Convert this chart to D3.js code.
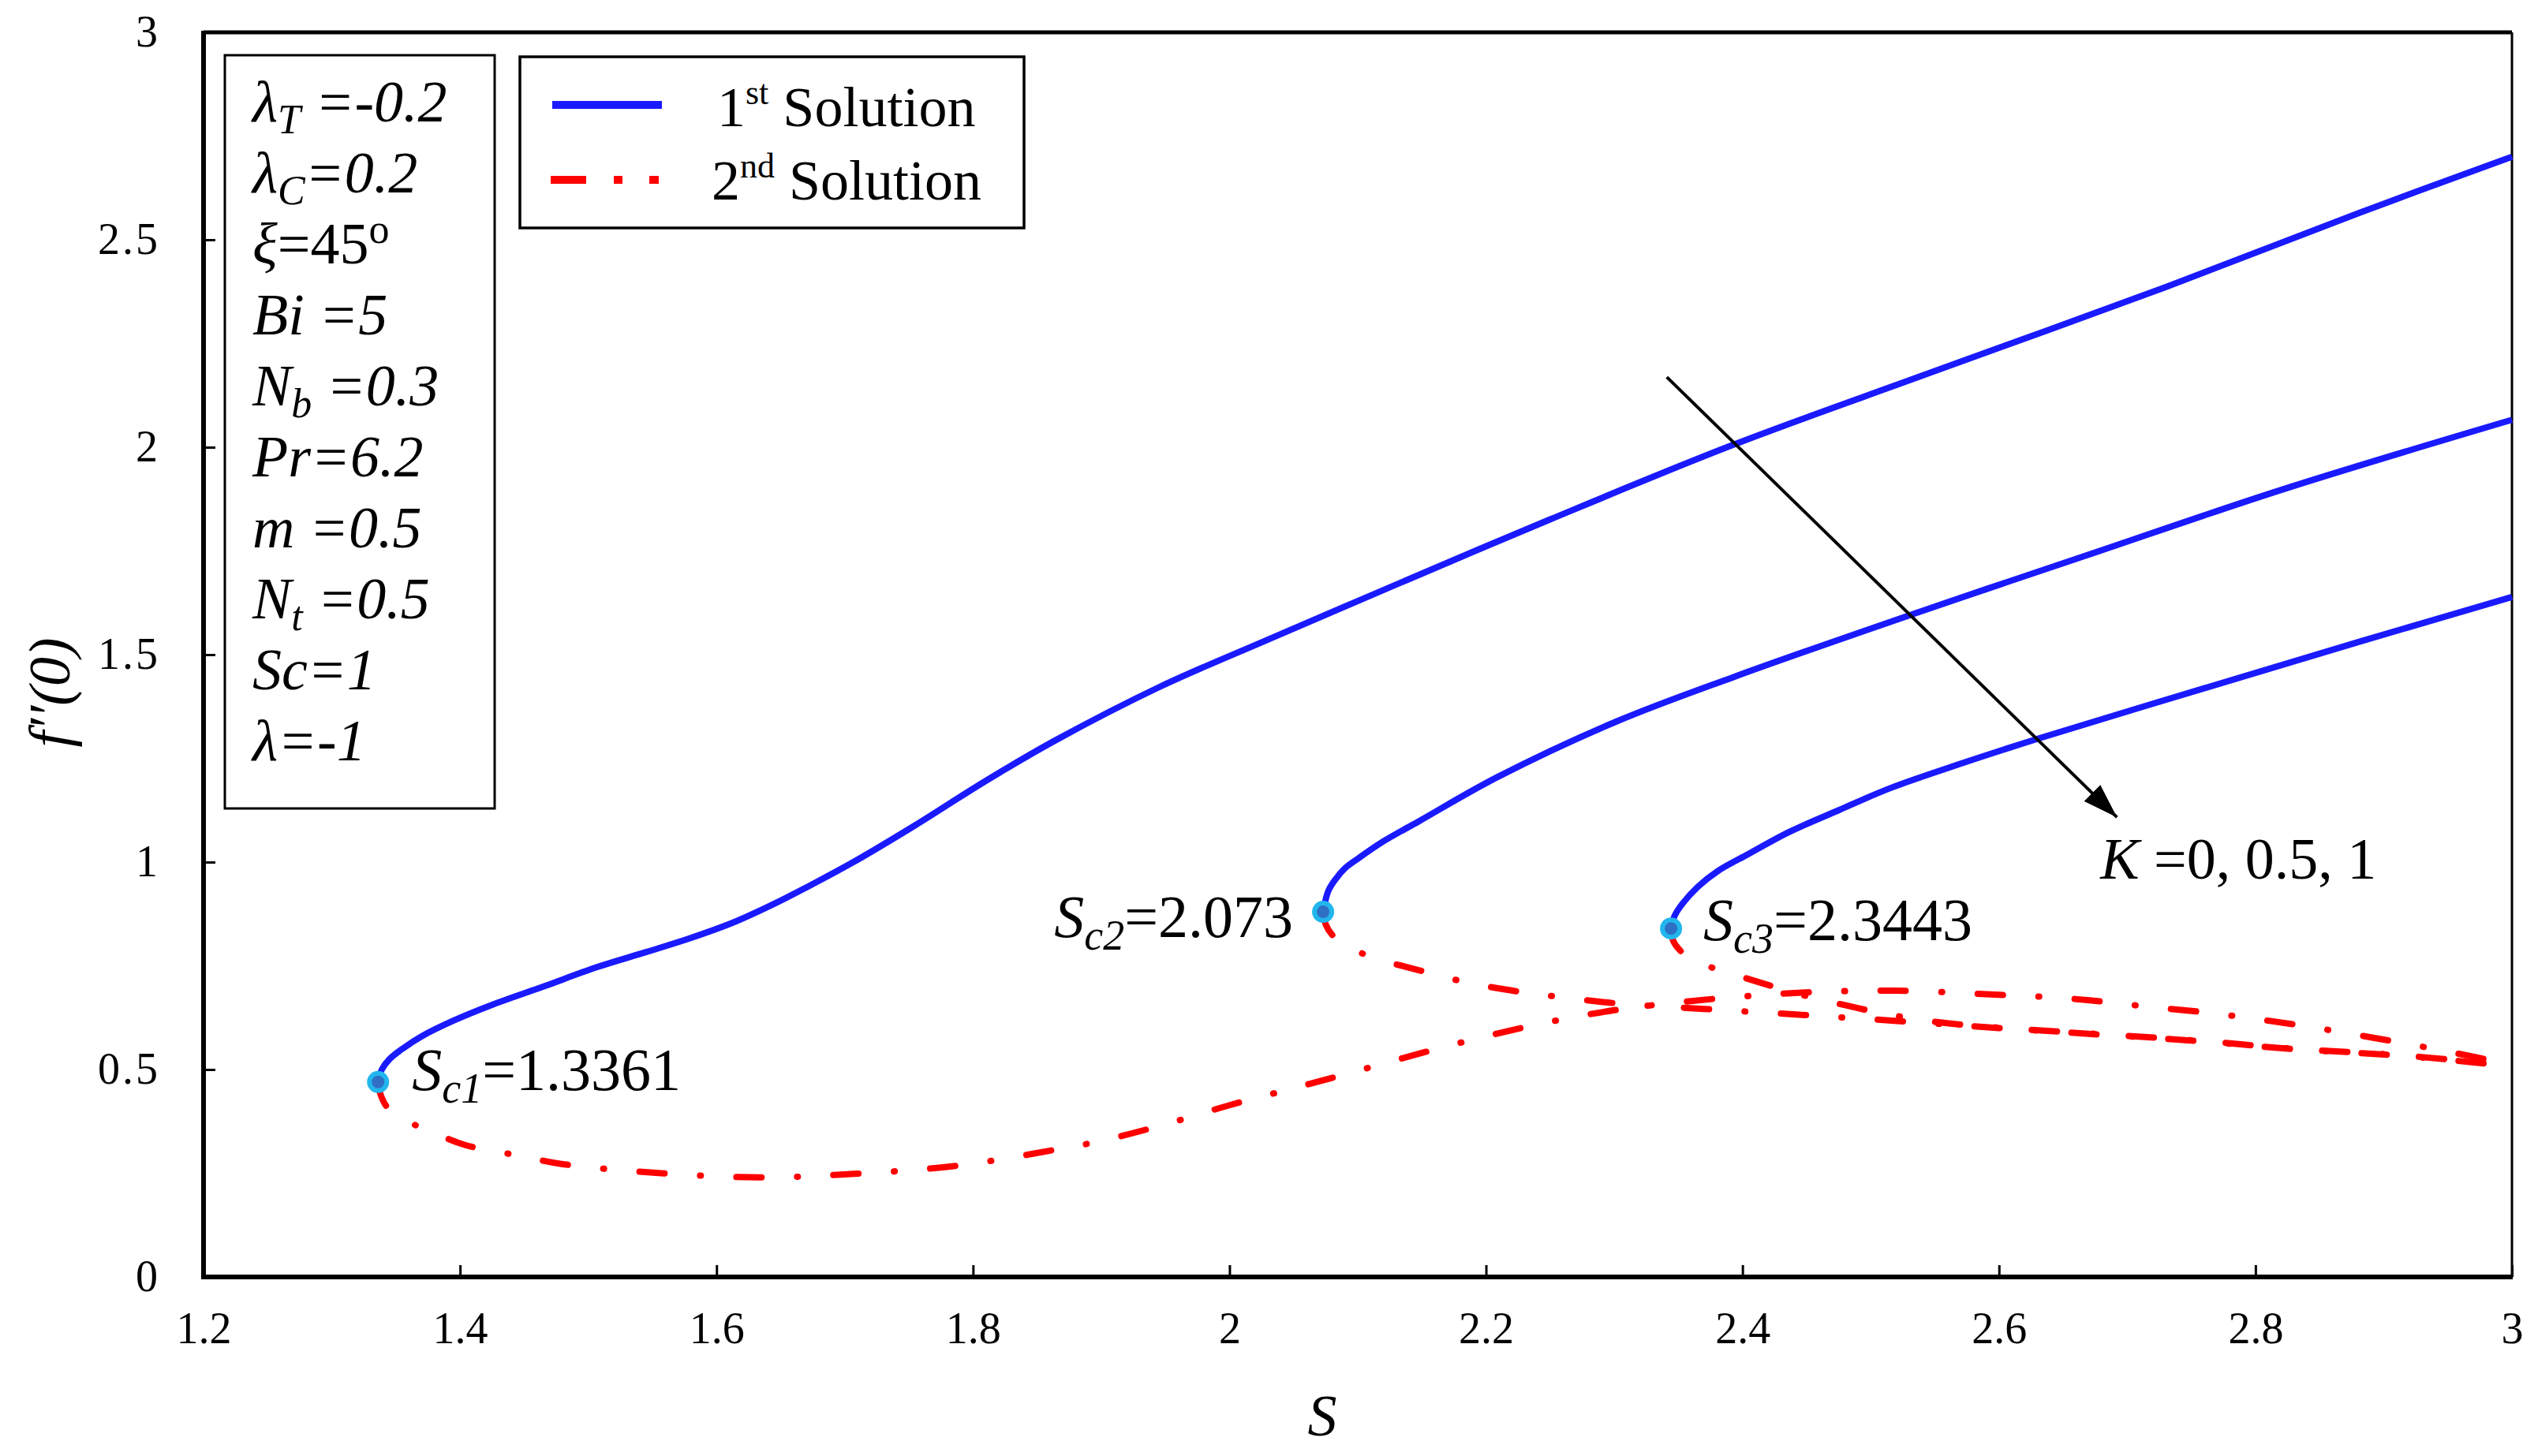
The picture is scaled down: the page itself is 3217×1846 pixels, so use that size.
<!DOCTYPE html>
<html><head><meta charset="utf-8">
<script src="https://cdn.jsdelivr.net/npm/d3@7"></script>
<style>body{margin:0;background:#fff}svg{display:block}</style>
</head><body>
<svg id="chart" width="3217" height="1846"></svg>
<script>
// ---------- data ----------
const xTickValues = [1.2, 1.4, 1.6, 1.8, 2, 2.2, 2.4, 2.6, 2.8, 3];
const yTickValues = [0, 0.5, 1, 1.5, 2, 2.5, 3];
const xLabel = "S";
const yLabel = "f\u2032\u2032(0)";

const critS = [1.3361, 2.073, 2.3443];
const critF = [0.47, 0.88, 0.84];
const critText = ["1.3361", "2.073", "2.3443"];
const critSub = ["c1", "c2", "c3"];

// 1st solution (K = 0, 0.5, 1)
const first_K0 = [[1.3361,0.47],[1.339,0.50],[1.345,0.525],[1.356,0.552],[1.37,0.58],[1.395,0.618],[1.425,0.656],[1.465,0.70],[1.507,0.747],[1.545,0.783],[1.578,0.815],[1.612,0.853],[1.644,0.898],[1.675,0.947],[1.705,0.997],[1.754,1.087],[1.809,1.194],[1.864,1.293],[1.946,1.423],[2.029,1.535],[2.149,1.694],[2.25,1.826],[2.393,2.006],[2.546,2.179],[2.73,2.386],[2.882,2.566],[3.0,2.70]];
const first_K05 = [[2.073,0.88],[2.077,0.93],[2.083,0.96],[2.09,0.985],[2.1,1.008],[2.12,1.05],[2.148,1.099],[2.209,1.205],[2.301,1.338],[2.393,1.446],[2.534,1.599],[2.668,1.739],[2.822,1.899],[3.0,2.066]];
const first_K1 = [[2.3443,0.84],[2.347,0.87],[2.353,0.899],[2.365,0.94],[2.381,0.979],[2.405,1.02],[2.436,1.072],[2.475,1.125],[2.515,1.178],[2.571,1.238],[2.631,1.298],[2.76,1.419],[2.882,1.532],[3.0,1.639]];

// 2nd solution (K = 0, 0.5, 1)
const second_K0 = [[1.3361,0.47],[1.338,0.44],[1.343,0.41],[1.355,0.38],[1.371,0.359],[1.404,0.318],[1.445,0.293],[1.48,0.272],[1.557,0.25],[1.634,0.24],[1.71,0.249],[1.787,0.268],[1.863,0.306],[1.9,0.328],[1.95,0.368],[2.0,0.414],[2.05,0.455],[2.1,0.497],[2.15,0.54],[2.2,0.58],[2.25,0.615],[2.3,0.643],[2.35,0.662],[2.4,0.676],[2.45,0.686],[2.52,0.69],[2.6,0.68],[2.646,0.673],[2.683,0.663],[2.72,0.65],[2.76,0.638],[2.8,0.622],[2.84,0.604],[2.88,0.583],[2.92,0.561],[2.96,0.537],[3.0,0.511]];
const second_K05 = [[2.073,0.88],[2.075,0.85],[2.08,0.825],[2.09,0.80],[2.111,0.771],[2.147,0.74],[2.185,0.71],[2.225,0.688],[2.26,0.674],[2.3,0.66],[2.37,0.646],[2.45,0.631],[2.53,0.615],[2.6,0.60],[2.68,0.584],[2.757,0.568],[2.83,0.549],[2.91,0.534],[3.0,0.508]];
const second_K1 = [[2.3443,0.84],[2.346,0.81],[2.352,0.785],[2.362,0.762],[2.379,0.743],[2.405,0.718],[2.424,0.70],[2.45,0.677],[2.48,0.655],[2.51,0.635],[2.55,0.615],[2.6,0.601],[2.68,0.585],[2.757,0.569],[2.83,0.55],[2.91,0.535],[3.0,0.51]];

const legendLabels = [["1","st"," Solution"],["2","nd"," Solution"]];

// parameter box lines: [symbol, subscript, value, italic value?, superscript]
const paramLines = [
  ["\u03BB","T"," =-0.2",true,""],
  ["\u03BB","C","=0.2",true,""],
  ["\u03BE","","=45",false,"o"],
  ["Bi","", " =5",true,""],
  ["N","b"," =0.3",true,""],
  ["Pr","","=6.2",true,""],
  ["m",""," =0.5",true,""],
  ["N","t"," =0.5",true,""],
  ["Sc","","=1",true,""],
  ["\u03BB","","=-1",true,""]
];

const arrowFrom = [2.341, 2.169];
const arrowTo = [2.692, 1.108];
const kLabelPos = [2.679, 0.96];
const kLabelText = ["K"," =0, 0.5, 1"];

// ---------- drawing ----------
const m = {left:258, right:3184, top:41, bottom:1619};
const svg = d3.select("#chart");
const FONT = "Liberation Serif";
const blue = "#1a1aff", red = "#ff0000";

const x = d3.scaleLinear().domain([1.2,3]).range([m.left,m.right]);
const y = d3.scaleLinear().domain([0,3]).range([m.bottom,m.top]);

// axes
const gx = svg.append("g").attr("transform",`translate(0,${m.bottom})`)
  .call(d3.axisBottom(x).tickValues(xTickValues).tickFormat(d3.format("~g"))
        .tickSizeInner(-15).tickSizeOuter(0).tickPadding(44));
gx.select(".domain").remove();
gx.selectAll(".tick line").attr("stroke","#000").attr("stroke-width",3);
gx.selectAll(".tick text").style("font-family",FONT).style("font-size","56px").attr("fill","#000");

const gy = svg.append("g").attr("transform",`translate(${m.left},0)`)
  .call(d3.axisLeft(y).tickValues(yTickValues).tickFormat(d3.format("~g"))
        .tickSizeInner(-15).tickSizeOuter(0).tickPadding(55));
gy.select(".domain").remove();
gy.selectAll(".tick line").attr("stroke","#000").attr("stroke-width",3);
gy.selectAll(".tick text").style("font-family",FONT).style("font-size","56px").attr("fill","#000")
  .style("letter-spacing","3px");

// frame
const frame = svg.append("g").attr("stroke","#000").attr("fill","none");
frame.append("line").attr("x1",m.left).attr("x2",m.right).attr("y1",m.top).attr("y2",m.top).attr("stroke-width",5);
frame.append("line").attr("x1",m.right).attr("x2",m.right).attr("y1",m.top).attr("y2",m.bottom).attr("stroke-width",3);
frame.append("line").attr("x1",m.left).attr("x2",m.left).attr("y1",m.top-2).attr("y2",m.bottom+3).attr("stroke-width",6);
frame.append("line").attr("x1",m.left-3).attr("x2",m.right+1).attr("y1",m.bottom).attr("y2",m.bottom).attr("stroke-width",6);

// axis titles
svg.append("text").attr("x",1676).attr("y",1820)
  .attr("text-anchor","middle").style("font-family",FONT).style("font-style","italic")
  .style("font-size","74px").text(xLabel);
svg.append("text").attr("transform","translate(88,878) rotate(-90)")
  .attr("text-anchor","middle").style("font-family",FONT).style("font-style","italic")
  .style("font-size","74px").text(yLabel);

// curves
const line = d3.line().x(d=>x(d[0])).y(d=>y(d[1])).curve(d3.curveCatmullRom.alpha(0.5));
const curves = svg.append("g").attr("fill","none");
[second_K0, second_K05, second_K1].forEach(s=>{
  curves.append("path").attr("d",line(s)).attr("stroke",red).attr("stroke-width",8)
    .attr("stroke-linecap","round").attr("stroke-dasharray","32,45,1,45");
});
[first_K0, first_K05, first_K1].forEach(s=>{
  curves.append("path").attr("d",line(s)).attr("stroke",blue).attr("stroke-width",8);
});

// critical points
svg.append("g").selectAll("circle").data(critS).join("circle")
  .attr("cx",d=>x(d)).attr("cy",(d,i)=>y(critF[i])).attr("r",11)
  .attr("fill","#2f6fc4").attr("stroke","#22b6ec").attr("stroke-width",6);

// critical labels
const critOffsets = [[43,10,"start"],[-38,32,"end"],[41,15,"start"]];
critS.forEach((s,i)=>{
  const t = svg.append("text").attr("x",x(s)+critOffsets[i][0]).attr("y",y(critF[i])+critOffsets[i][1])
    .attr("text-anchor",critOffsets[i][2]).style("font-family",FONT).style("font-size","76px");
  t.append("tspan").style("font-style","italic").text("S");
  t.append("tspan").style("font-style","italic").style("font-size","54px").attr("dy",16).text(critSub[i]);
  t.append("tspan").attr("dy",-16).text("="+critText[i]);
});

// arrow
const defs = svg.append("defs");
defs.append("marker").attr("id","ah").attr("viewBox","0 0 12 8").attr("refX",12).attr("refY",4)
  .attr("markerWidth",11).attr("markerHeight",7.5).attr("markerUnits","strokeWidth").attr("orient","auto")
  .append("path").attr("d","M0,0 L12,4 L0,8 Z").attr("fill","#000");
svg.append("line").attr("x1",x(arrowFrom[0])).attr("y1",y(arrowFrom[1]))
  .attr("x2",x(arrowTo[0])).attr("y2",y(arrowTo[1]))
  .attr("stroke","#000").attr("stroke-width",4).attr("marker-end","url(#ah)");
const kt = svg.append("text").attr("x",x(kLabelPos[0])).attr("y",y(kLabelPos[1]))
  .style("font-family",FONT).style("font-size","74px");
kt.append("tspan").style("font-style","italic").text(kLabelText[0]);
kt.append("tspan").text(kLabelText[1]);

// parameter box
svg.append("rect").attr("x",285).attr("y",70).attr("width",342).attr("height",955)
  .attr("fill","#fff").attr("stroke","#000").attr("stroke-width",3);
paramLines.forEach((p,i)=>{
  const t = svg.append("text").attr("x",320).attr("y",154+90*i)
    .style("font-family",FONT).style("font-size","74px").style("font-style","italic");
  t.append("tspan").text(p[0]);
  let shift = 0;
  if (p[1]) { t.append("tspan").style("font-size","52px").attr("dy",15).text(p[1]); shift = 15; }
  const v = t.append("tspan").attr("dy",-shift).text(p[2]);
  if (!p[3]) v.style("font-style","normal");
  if (p[4]) t.append("tspan").style("font-style","normal").style("font-size","52px").attr("dy",-26).text(p[4]);
});

// legend
svg.append("rect").attr("x",659).attr("y",72).attr("width",639).attr("height",217)
  .attr("fill","#fff").attr("stroke","#000").attr("stroke-width",3.5);
svg.append("line").attr("x1",700).attr("x2",839).attr("y1",133).attr("y2",133)
  .attr("stroke",blue).attr("stroke-width",10);
svg.append("line").attr("x1",698).attr("x2",836).attr("y1",228).attr("y2",228)
  .attr("stroke",red).attr("stroke-width",10).attr("stroke-dasharray","45,35,11,34,12,100");
const legX = [909, 902], legY = [160, 253];
legendLabels.forEach((l,i)=>{
  const t = svg.append("text").attr("x",legX[i]).attr("y",legY[i])
    .style("font-family",FONT).style("font-size","72px");
  t.append("tspan").text(l[0]);
  t.append("tspan").style("font-size","44px").attr("dy",-28).text(l[1]);
  t.append("tspan").attr("dy",28).text(l[2]);
});
</script>
</body></html>
